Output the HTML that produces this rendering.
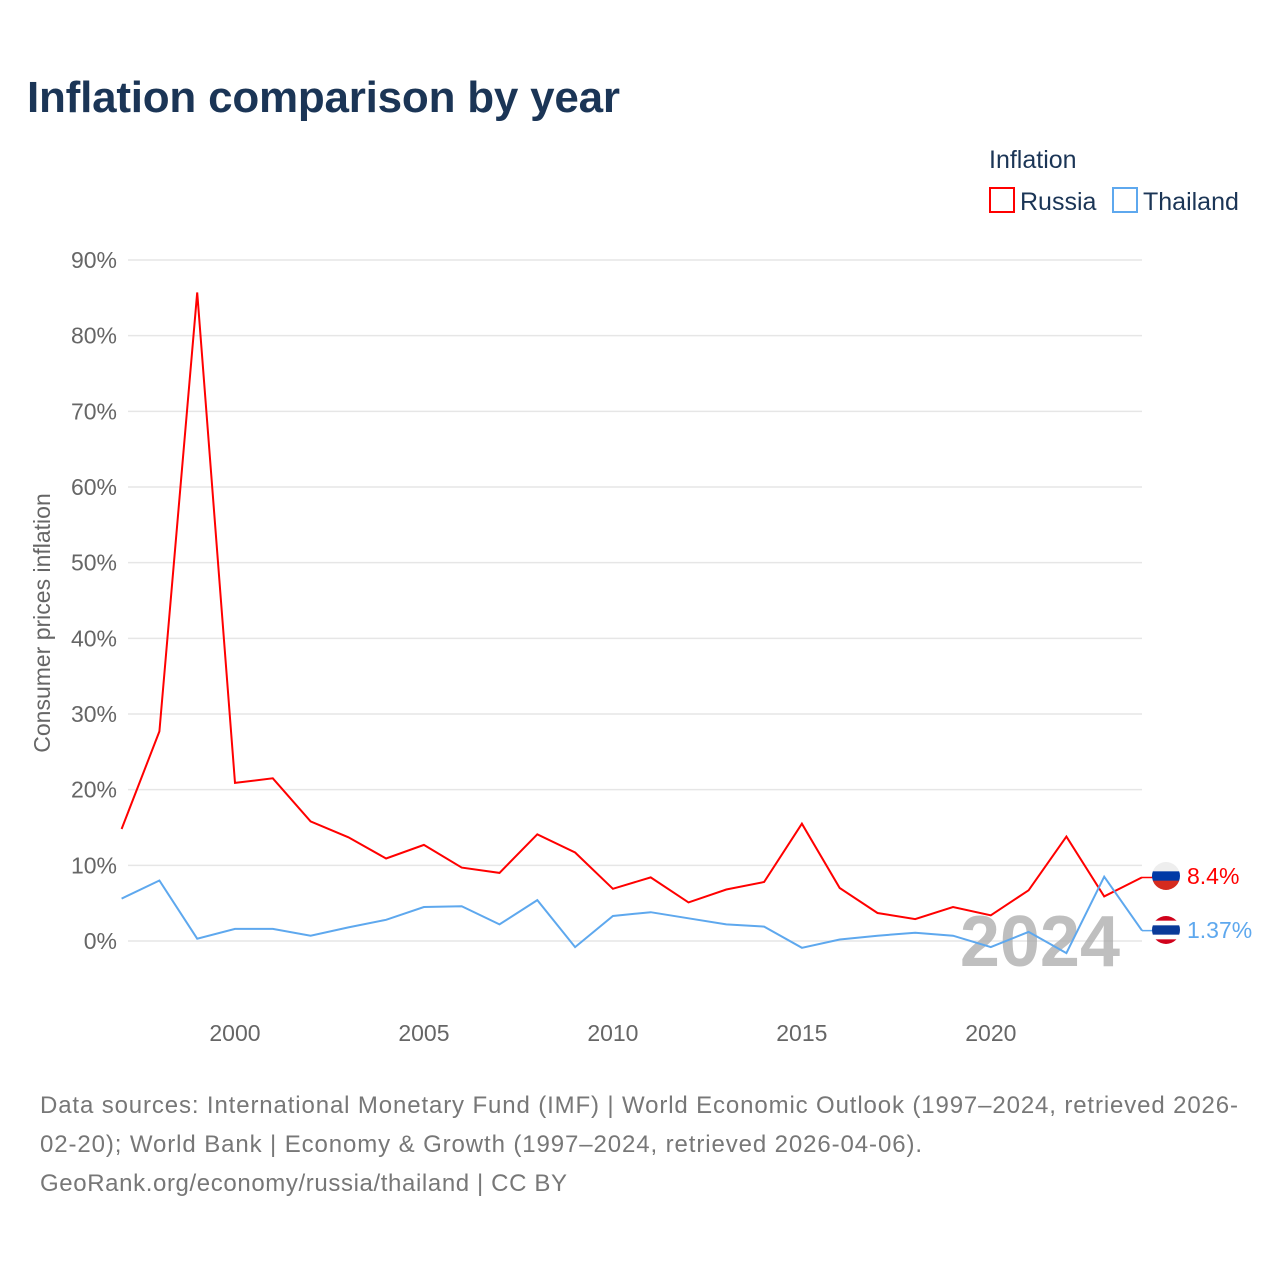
<!DOCTYPE html>
<html><head><meta charset="utf-8"><style>
body{margin:0;background:#fff;font-family:"Liberation Sans",sans-serif;}
svg text{font-family:"Liberation Sans",sans-serif;}
</style></head><body>
<svg id="chart" width="1280" height="1280" xmlns="http://www.w3.org/2000/svg">
<text x="27" y="112" font-size="44" font-weight="bold" fill="#1b3556" textLength="593">Inflation comparison by year</text>
<text x="989" y="168" font-size="25" fill="#1b3556">Inflation</text>
<g><rect x="990" y="188" width="24" height="24" fill="none" stroke="#f00" stroke-width="2"/><text x="1020" y="210" font-size="25" fill="#1b3556">Russia</text></g>
<g><rect x="1113" y="188" width="24" height="24" fill="none" stroke="#5ea8ee" stroke-width="2"/><text x="1143" y="210" font-size="25" fill="#1b3556">Thailand</text></g>
<text transform="translate(50,623) rotate(-90)" text-anchor="middle" font-size="23" fill="#666">Consumer prices inflation</text>
<g id="grid"></g><g id="ylabels"></g><g id="xlabels"></g>
<text x="1120" y="966" text-anchor="end" font-size="72" font-weight="bold" fill="#aaa" opacity="0.75">2024</text>
<g id="series"></g>
<g id="flags"></g>
<text x="40" y="1113" font-size="24" fill="#777" textLength="1198">Data sources: International Monetary Fund (IMF) | World Economic Outlook (1997–2024, retrieved 2026-</text>
<text x="40" y="1152" font-size="24" fill="#777" textLength="882">02-20); World Bank | Economy &amp; Growth (1997–2024, retrieved 2026-04-06).</text>
<text x="40" y="1191" font-size="24" fill="#777" textLength="527">GeoRank.org/economy/russia/thailand | CC BY</text>
</svg>
<script>
const years=[1997,1998,1999,2000,2001,2002,2003,2004,2005,2006,2007,2008,2009,2010,2011,2012,2013,2014,2015,2016,2017,2018,2019,2020,2021,2022,2023,2024];
const russia=[14.8,27.7,85.7,20.9,21.5,15.8,13.7,10.9,12.7,9.7,9.0,14.1,11.7,6.9,8.4,5.1,6.8,7.8,15.5,7.0,3.7,2.9,4.5,3.4,6.7,13.8,5.9,8.4];
const thailand=[5.6,8.0,0.3,1.6,1.6,0.7,1.8,2.8,4.5,4.6,2.2,5.4,-0.8,3.3,3.8,3.0,2.2,1.9,-0.9,0.2,0.7,1.1,0.7,-0.8,1.2,-1.6,8.5,1.37];
const yTicks=[0,10,20,30,40,50,60,70,80,90];
const xTicks=[2000,2005,2010,2015,2020];
const NS="http://www.w3.org/2000/svg";
const x=v=>121.6+(v-1997)*(1142-121.6)/27;
const y=v=>941-v*(941-260)/90;
function mk(tag,attrs,parent){const e=document.createElementNS(NS,tag);for(const k in attrs)e.setAttribute(k,attrs[k]);document.getElementById(parent).appendChild(e);return e;}
yTicks.forEach(t=>{
 const l=mk('line',{x1:128,x2:1142,y1:y(t),y2:y(t),stroke:'#e6e6e6','stroke-width':1.5},'grid');
 
 
 const tx=mk('text',{x:117,y:y(t)+8,'text-anchor':'end','font-size':23,fill:'#666'},'ylabels');
 tx.textContent=t+'%';
 
 
});
xTicks.forEach(t=>{
 const tx=mk('text',{x:x(t),y:1041,'text-anchor':'middle','font-size':23,fill:'#666'},'xlabels');
 tx.textContent=t;
 
 
});
function line(vals,color,name){
 const d=vals.map((v,i)=>(i?'L':'M')+x(years[i]).toFixed(1)+','+y(v).toFixed(1)).join(' ');
 const p=mk('path',{d:d,fill:'none',stroke:color,'stroke-width':2},'series');
 
 
}
line(russia,'#f00','russia-line');
line(thailand,'#5ea8ee','thailand-line');
function flag(val,ly,colors,label,color,name){
 const lx=x(2024);
 mk('path',{d:`M${lx},${y(val)} L${lx+10},${y(val)} L${lx+12},${ly}`,fill:'none',stroke:color,'stroke-width':1.5},'flags');
 const g=mk('g',{},'flags');
 
 
 const cx=1166,r=14;
 const cp=document.createElementNS(NS,'clipPath');cp.setAttribute('id','c'+name);
 const c=document.createElementNS(NS,'circle');c.setAttribute('cx',cx);c.setAttribute('cy',ly);c.setAttribute('r',r);cp.appendChild(c);g.appendChild(cp);
 const hs=colors.map(c=>c[1]);const tot=hs.reduce((a,b)=>a+b,0);let yy=ly-r;
 colors.forEach(([col,h])=>{const rr=document.createElementNS(NS,'rect');rr.setAttribute('x',cx-r);rr.setAttribute('y',yy);rr.setAttribute('width',2*r);rr.setAttribute('height',h/tot*2*r+0.5);rr.setAttribute('fill',col);rr.setAttribute('clip-path',`url(#c${name})`);g.appendChild(rr);yy+=h/tot*2*r;});
 const t=mk('text',{x:1187,y:ly+8,'font-size':23,fill:color},'flags');
 t.textContent=label;
 
 
}
flag(russia[27],876,[['#eee',1],['#0039a6',1],['#d52b1e',1]],'8.4%','#f00','russia-flag');
flag(thailand[27],930,[['#d0021b',1],['#fff',1],['#0a3a99',2],['#fff',1],['#d0021b',1]],'1.37%','#5ea8ee','thailand-flag');
</script>
</body></html>
